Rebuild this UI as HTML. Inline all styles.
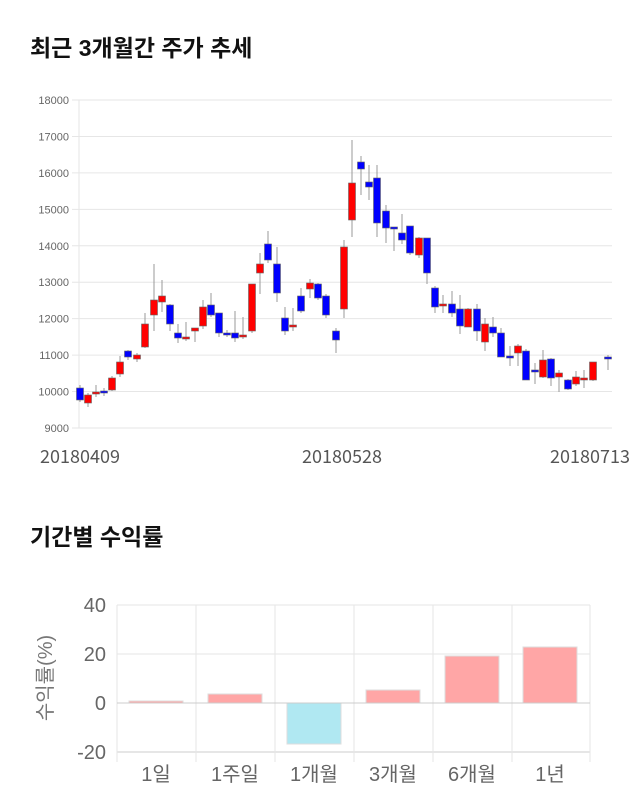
<!DOCTYPE html>
<html><head><meta charset="utf-8"><style>
html,body{margin:0;padding:0;background:#fff;width:640px;height:810px;overflow:hidden}
svg{display:block}
</style></head><body>
<svg id="s" width="640" height="810" xmlns="http://www.w3.org/2000/svg" font-family="Liberation Sans, Noto Sans CJK KR, sans-serif">
<text x="30" y="56" font-size="23" font-weight="bold" fill="#111" font-family="Liberation Sans, Noto Sans CJK KR, sans-serif">최근 3개월간 주가 추세</text>
<g id="grid" stroke="#e6e6e6" stroke-width="1"></g>
<line x1="79" y1="100" x2="79" y2="428" stroke="#e6e6e6"/>
<g id="ylab" font-size="11" fill="#666" text-anchor="end"></g>
<g id="candles"></g>
<g font-size="18" fill="#555" text-anchor="middle" font-family="Noto Sans CJK KR, sans-serif">
<text x="80" y="463">20180409</text>
<text x="342" y="463">20180528</text>
<text x="590" y="463">20180713</text>
</g>
<text x="30" y="545" font-size="23" font-weight="bold" fill="#111">기간별 수익률</text>
<g stroke="#e6e6e6">
<line x1="117" y1="605" x2="590" y2="605"/><line x1="117" y1="654" x2="590" y2="654"/>
<line x1="117" y1="752" x2="590" y2="752" stroke="#ccc"/>
<line x1="117" y1="605" x2="117" y2="762"/><line x1="196" y1="605" x2="196" y2="762"/>
<line x1="275" y1="605" x2="275" y2="762"/><line x1="354" y1="605" x2="354" y2="762"/>
<line x1="433" y1="605" x2="433" y2="762"/><line x1="512" y1="605" x2="512" y2="762"/>
<line x1="590" y1="605" x2="590" y2="762"/>
</g>
<g stroke="#ddd" stroke-width="1">
<rect x="129" y="701" width="54" height="2" fill="#ffa6a6"/>
<rect x="208" y="694" width="54" height="9" fill="#ffa6a6"/>
<rect x="287" y="703" width="54" height="41" fill="#b0e8f2"/>
<rect x="366" y="690" width="54" height="13" fill="#ffa6a6"/>
<rect x="445" y="656" width="54" height="47" fill="#ffa6a6"/>
<rect x="523" y="647" width="54" height="56" fill="#ffa6a6"/>
</g>
<line x1="117" y1="703" x2="590" y2="703" stroke="#ccc"/>
<g font-size="20" fill="#666" text-anchor="end">
<text x="106" y="612">40</text><text x="106" y="661">20</text>
<text x="106" y="710">0</text><text x="106" y="759">-20</text>
</g>
<text transform="translate(52,678) rotate(-90)" font-size="20" fill="#777" text-anchor="middle">수익률(%)</text>
<g font-size="20" fill="#666" text-anchor="middle">
<text x="156" y="781">1일</text><text x="235" y="781">1주일</text><text x="314" y="781">1개월</text>
<text x="393" y="781">3개월</text><text x="472" y="781">6개월</text><text x="550" y="781">1년</text>
</g>
</svg>
<script>
var ns="http://www.w3.org/2000/svg";
function el(p,t,a){var e=document.createElementNS(ns,t);for(var k in a)e.setAttribute(k,a[k]);p.appendChild(e);return e;}
var g=document.getElementById('grid'),yl=document.getElementById('ylab');
for(var i=0;i<=9;i++){var y=100+i*36.44;el(g,'line',{x1:72,y1:y,x2:612,y2:y});var t=el(yl,'text',{x:69,y:y+4});t.textContent=18000-i*1000;}
var d=[[80,'b',388,400,385,402],[88,'r',395,403,393,407],[96,'r',392,394,385,397],[104,'b',391,393,388,396],[112,'r',378,390,376,391],[120,'r',362,374,356,377],[128,'b',351,357,350,360],[137,'r',355,359,353,362],[145,'r',324,347,313,348],[154,'r',300,315,264,331],[162,'r',296,302,280,312],[170,'b',305,324,304,331],[178,'b',333,338,324,343],[186,'r',337,339,322,341],[195,'r',328,331,328,342],[203,'r',307,326,300,329],[211,'b',305,315,293,317],[219,'b',313,333,313,337],[227,'b',333,335,330,337],[235,'b',333,338,311,342],[243,'r',335,337,317,339],[252,'r',284,331,284,333],[260,'r',264,273,253,294],[268,'b',244,260,231,263],[277,'b',264,293,247,302],[285,'b',318,331,307,335],[293,'r',325,327,308,331],[301,'b',296,311,288,313],[310,'r',283,289,279,298],[318,'b',284,298,283,300],[326,'b',296,315,294,318],[336,'b',331,340,328,353],[344,'r',247,309,240,318],[352,'r',183,220,140,237],[361,'b',162,169,156,195],[369,'b',182,187,165,200],[377,'b',178,223,165,237],[386,'b',211,228,205,243],[394,'b',227,229,227,251],[402,'b',233,240,214,244],[410,'b',226,253,226,255],[419,'r',238,255,237,258],[427,'b',238,273,238,284],[435,'b',288,307,286,313],[443,'r',304,305,295,313],[452,'b',304,313,291,317],[460,'b',309,326,295,334],[468,'r',309,327,308,327],[477,'b',309,331,304,341],[485,'r',324,342,318,351],[493,'b',327,333,317,337],[501,'b',333,357,328,357],[510,'b',356,357,346,366],[518,'r',346,353,344,366],[526,'b',351,380,349,380],[535,'b',370,371,363,384],[543,'r',360,377,350,378],[551,'b',359,378,358,386],[559,'r',373,377,370,392],[568,'b',380,389,379,390],[576,'r',377,384,371,386],[584,'r',378,380,370,388],[593,'r',362,380,362,381],[608,'b',357,359,355,370]];
var c=document.getElementById('candles');
d.forEach(function(k){var x=k[0];el(c,'line',{x1:x,y1:k[4],x2:x,y2:k[5],stroke:'#999','stroke-width':1});
var h=Math.max(2,k[3]-k[2]);el(c,'rect',{x:x-3.5,y:k[2],width:7,height:h,fill:k[1]=='r'?'#ff0000':'#0000ff',stroke:'#666','stroke-width':0.6});});
</script>
</body></html>
